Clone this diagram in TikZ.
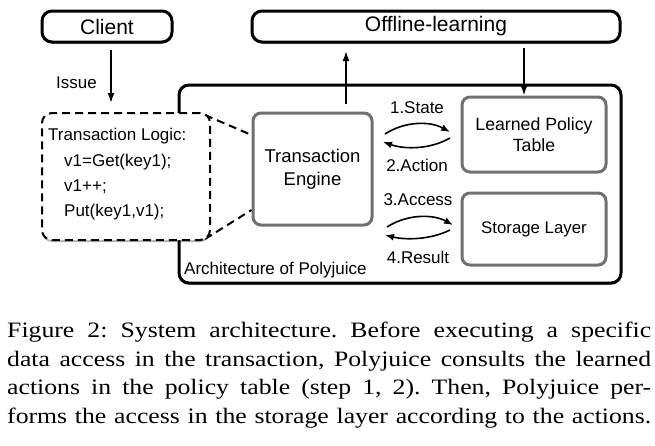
\documentclass[tikz,border=0pt]{standalone}
\usepackage{fontspec}
\setmainfont{Liberation Sans}
\newfontfamily\capfont[FakeStretch=1.17]{Liberation Serif}
\usetikzlibrary{arrows.meta,shadows,calc}
\definecolor{boxgray}{HTML}{707070}
\begin{document}
\frenchspacing
\begin{tikzpicture}[x=1pt,y=-1pt,
  shad/.style={drop shadow={shadow xshift=0pt,shadow yshift=-2pt,opacity=0.3,fill=black}},
  blackbox/.style={draw=black,line width=3pt,rounded corners=10pt,fill=white,shad,inner sep=0pt},
  graybox/.style={draw=boxgray,line width=3pt,rounded corners=8pt,fill=white,inner sep=0pt,align=center},
  logicbox/.style={draw=black,line width=2pt,dash pattern=on 8pt off 5pt,rounded corners=10pt,fill=white,shad,inner sep=0pt},
  arr/.style={line width=1.6pt,-{Latex[length=10pt,width=7pt]}},
  carr/.style={line width=1.6pt,-{Latex[length=9pt,width=7pt]}},
  lbl/.style={font=\fontsize{17}{20}\selectfont,inner sep=0pt},
  capline/.style={anchor=base west,inner sep=0pt,font=\capfont\fontsize{22}{28.7}\selectfont}
]
\useasboundingbox (0,0) rectangle (655,445);
\fill[white] (0,0) rectangle (655,445);

% outer architecture box
\node[blackbox,minimum width=442pt,minimum height=198pt] (arch) at (400,184) {};
\node[lbl,anchor=west] (archlbl) at (184,270) {Architecture of Polyjuice};

% top boxes
\node[blackbox,minimum width=130pt,minimum height=31pt,font=\fontsize{21}{24}\selectfont] (client) at (107,26.5) {Client};
\node[blackbox,minimum width=368pt,minimum height=31pt,font=\fontsize{21}{24}\selectfont] (offline) at (436,26.5) {Offline-learning};

% transaction engine etc.
\node[graybox,minimum width=119pt,minimum height=112pt,font=\fontsize{18.5}{23.5}\selectfont] (te) at (312.5,169) {Transaction\\Engine};
\node[graybox,minimum width=144pt,minimum height=75pt,font=\fontsize{17.7}{20.5}\selectfont] (lpt) at (534,134.5) {Learned Policy\\Table};
\node[graybox,minimum width=144pt,minimum height=72pt,font=\fontsize{16.8}{20}\selectfont] (store) at (534,229) {Storage Layer};

% dashed zoom lines
\coordinate (z1) at (205,115);
\coordinate (z2) at (205,239);
\draw[line width=2pt,dash pattern=on 8pt off 5pt] (z1) -- (te.west |- 0,135);
\draw[line width=2pt,dash pattern=on 8pt off 5pt] (z2) -- (te.west |- 0,210);

% transaction logic box
\node[logicbox,minimum width=168pt,minimum height=127pt] (logic) at (126,176.5) {};
\node[lbl,anchor=west] (l1) at (48,136) {Transaction Logic:};
\node[lbl,anchor=west] (l2) at (64,162) {v1=Get(key1);};
\node[lbl,anchor=west] (l3) at (64,187) {v1++;};
\node[lbl,anchor=west] (l4) at (64,212) {Put(key1,v1);};

% vertical arrows
\coordinate (cdown) at (111,50);
\draw[arr] (cdown) -- (cdown |- 0,103);
\node[lbl,anchor=east] (issue) at (97,83) {Issue};
\coordinate (teup) at (346,104);
\draw[arr] (teup) -- (teup |- 0,51);
\coordinate (offdown) at (524,48);
\draw[arr] (offdown) -- (offdown |- lpt.north);

% curved arrows
\coordinate (a1s) at (385,134); \coordinate (a1e) at (450,132);
\coordinate (a2s) at (450,138); \coordinate (a2e) at (383,142);
\coordinate (a3s) at (387,227); \coordinate (a3e) at (453,225);
\coordinate (a4s) at (450,230); \coordinate (a4e) at (385,235);
\draw[carr] (a1s) .. controls (405,121) and (430,121) .. (a1e);
\draw[carr] (a2s) .. controls (430,149.5) and (405,149.5) .. (a2e);
\draw[carr] (a3s) .. controls (407,214) and (433,214) .. (a3e);
\draw[carr] (a4s) .. controls (430,240) and (405,240) .. (a4e);
\node[lbl] (t1) at (417,108) {1.State};
\node[lbl] (t2) at (417,165) {2.Action};
\node[lbl] (t3) at (418,200) {3.Access};
\node[lbl] (t4) at (418,257) {4.Result};

% caption
\node[capline] (c1) at (7,337) {\makebox[644pt][s]{Figure 2: System architecture. Before executing a specific}};
\node[capline] (c2) at (7,366) {\makebox[644pt][s]{data access in the transaction, Polyjuice consults the learned}};
\node[capline] (c3) at (7,394.5) {\makebox[644pt][s]{actions in the policy table (step 1, 2). Then, Polyjuice per-}};
\node[capline] (c4) at (7,423) {\makebox[644pt][s]{forms the access in the storage layer according to the actions.}};
\end{tikzpicture}
\end{document}
